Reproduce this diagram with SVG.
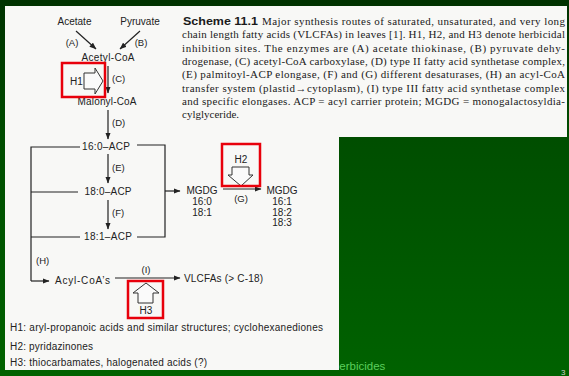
<svg xmlns="http://www.w3.org/2000/svg" width="569" height="376" viewBox="0 0 569 376">
<defs>
<linearGradient id="bg" x1="0" y1="0" x2="0" y2="1">
<stop offset="0" stop-color="#003200"/>
<stop offset="0.37" stop-color="#004e00"/>
<stop offset="1" stop-color="#006200"/>
</linearGradient>
<marker id="ah" markerUnits="userSpaceOnUse" markerWidth="7" markerHeight="6" refX="6.5" refY="3" orient="auto">
<path d="M0,0.3 L7,3 L0,5.7 z" fill="#222"/>
</marker>
<style>
.lbl{font-family:"Liberation Sans",Arial,sans-serif;font-size:10px;fill:#222;}
.sm{font-family:"Liberation Sans",Arial,sans-serif;font-size:9.5px;fill:#222;}
.cap{font-family:"Liberation Serif","Times New Roman",serif;font-size:11px;fill:#1a1a1a;}
.ln{stroke:#222;stroke-width:1.2;fill:none;}
.arr{stroke:#222;stroke-width:1.2;fill:none;marker-end:url(#ah);}
.red{fill:none;stroke:#e8000b;stroke-width:2.5;}
.hol{fill:#fafafa;stroke:#333;stroke-width:1;}
.c{text-anchor:middle;}
</style>
</defs>
<rect x="0" y="0" width="569" height="376" fill="url(#bg)"/>
<text x="331" y="370" style="font-family:'Liberation Sans',Arial,sans-serif;font-size:11.5px;fill:#5ccf5c;">Herbicides</text>
<text x="561" y="375" style="font-family:'Liberation Sans',Arial,sans-serif;font-size:8px;fill:#d0d0d0;">3</text>
<path d="M5,6 H567 V137 H339 V370 H5 Z" fill="#f8f8f6"/>

<g id="caption">
<text x="183" y="25" textLength="75" lengthAdjust="spacingAndGlyphs" style="font-family:'Liberation Sans',Arial,sans-serif;font-weight:bold;font-size:11px;fill:#1a1a1a;">Scheme 11.1</text>
<text class="cap" x="262" y="25" textLength="303" lengthAdjust="spacing">Major synthesis routes of saturated, unsaturated, and very long</text>
<text class="cap" x="182" y="38.3" textLength="383" lengthAdjust="spacing">chain length fatty acids (VLCFAs) in leaves [1]. H1, H2, and H3 denote herbicidal</text>
<text class="cap" x="182" y="51.6" textLength="383" lengthAdjust="spacing">inhibition sites. The enzymes are (A) acetate thiokinase, (B) pyruvate dehy-</text>
<text class="cap" x="182" y="64.9" textLength="383" lengthAdjust="spacing">drogenase, (C) acetyl-CoA carboxylase, (D) type II fatty acid synthetase complex,</text>
<text class="cap" x="182" y="78.2" textLength="383" lengthAdjust="spacing">(E) palmitoyl-ACP elongase, (F) and (G) different desaturases, (H) an acyl-CoA</text>
<text class="cap" x="182" y="91.5" textLength="383" lengthAdjust="spacing">transfer system (plastid→cytoplasm), (I) type III fatty acid synthetase complex</text>
<text class="cap" x="182" y="104.8" textLength="383" lengthAdjust="spacing">and specific elongases. ACP = acyl carrier protein; MGDG = monogalactosyldia-</text>
<text class="cap" x="182" y="118">cylglyceride.</text>
</g>

<g id="connectors">
<line class="arr" x1="76" y1="31" x2="96" y2="49"/>
<line class="arr" x1="140" y1="31" x2="120" y2="49"/>
<line class="arr" x1="108" y1="66" x2="108" y2="93"/>
<line class="arr" x1="108" y1="110" x2="108" y2="139"/>
<line class="arr" x1="108" y1="154" x2="108" y2="183"/>
<line class="arr" x1="108" y1="200" x2="108" y2="229"/>
<path class="ln" d="M80,147 H31 V281"/>
<line class="ln" x1="31" y1="192" x2="78" y2="192"/>
<line class="ln" x1="31" y1="237" x2="80" y2="237"/>
<path class="ln" d="M137,145 H165 V237 H137"/>
<line class="arr" x1="165" y1="191" x2="180" y2="191"/>
<line class="arr" x1="223" y1="189" x2="261" y2="189"/>
<path class="arr" d="M31,281 H49"/>
<line class="arr" x1="115" y1="278" x2="180" y2="278"/>
</g>

<g id="n-acetate"><text class="lbl c" x="74.5" y="25">Acetate</text><text class="sm c" x="72" y="46">(A)</text></g>
<g id="n-pyruvate"><text class="lbl c" x="140" y="25">Pyruvate</text><text class="sm c" x="141" y="46">(B)</text></g>
<g id="n-acetylcoa"><text class="lbl c" x="108" y="61" textLength="53" lengthAdjust="spacing">Acetyl-CoA</text><text class="sm" x="112" y="82">(C)</text></g>
<g id="n-malonylcoa"><text class="lbl c" x="107" y="105" textLength="59" lengthAdjust="spacing">Malonyl-CoA</text><text class="sm" x="112" y="126">(D)</text></g>
<g id="n-160acp"><text class="lbl c" x="106" y="150" textLength="48" lengthAdjust="spacing">16:0–ACP</text><text class="sm" x="112" y="171">(E)</text></g>
<g id="n-180acp"><text class="lbl c" x="108" y="195" textLength="47" lengthAdjust="spacing">18:0–ACP</text><text class="sm" x="112" y="216">(F)</text></g>
<g id="n-181acp"><text class="lbl c" x="108" y="240" textLength="48" lengthAdjust="spacing">18:1–ACP</text><text class="sm" x="36" y="264">(H)</text></g>
<g id="n-mgdg1"><text class="lbl c" x="202" y="194">MGDG</text><text class="lbl c" x="202" y="205">16:0</text><text class="lbl c" x="202" y="216">18:1</text></g>
<g id="n-mgdg2"><text class="lbl c" x="282" y="194">MGDG</text><text class="lbl c" x="282" y="205">16:1</text><text class="lbl c" x="282" y="215.5">18:2</text><text class="lbl c" x="282" y="226">18:3</text><text class="sm c" x="241" y="202">(G)</text></g>
<g id="n-acylcoa"><text class="lbl c" x="82.5" y="284" textLength="55" lengthAdjust="spacing">Acyl-CoA’s</text><text class="sm c" x="146" y="273">(I)</text></g>
<g id="n-vlcfa"><text class="lbl" x="184" y="282" textLength="79" lengthAdjust="spacing">VLCFAs (&gt; C-18)</text></g>

<g id="h1">
<text class="lbl" x="70" y="85">H1</text>
<path class="hol" d="M84,73 H95 V68 L103,81 L95,94 V89 H84 Z"/>
<rect class="red" x="62" y="63" width="43" height="34"/>
</g>
<g id="h2">
<text class="lbl c" x="241" y="163">H2</text>
<path class="hol" d="M232,167 H249 V175 H253 L241,186 L228,175 H232 Z"/>
<rect class="red" x="222" y="144" width="38" height="42"/>
</g>
<g id="h3">
<path class="hol" d="M146,283 L159,293 H153 V303 H138 V293 H133 Z"/>
<text class="lbl c" x="146" y="314">H3</text>
<rect class="red" x="128" y="281" width="35" height="37"/>
</g>

<g id="legend">
<text class="lbl" x="10" y="331" textLength="313" lengthAdjust="spacing">H1: aryl-propanoic acids and similar structures; cyclohexanediones</text>
<text class="lbl" x="10" y="350" textLength="83" lengthAdjust="spacing">H2: pyridazinones</text>
<text class="lbl" x="10" y="366" textLength="197" lengthAdjust="spacing">H3: thiocarbamates, halogenated acids (?)</text>
</g>
</svg>
